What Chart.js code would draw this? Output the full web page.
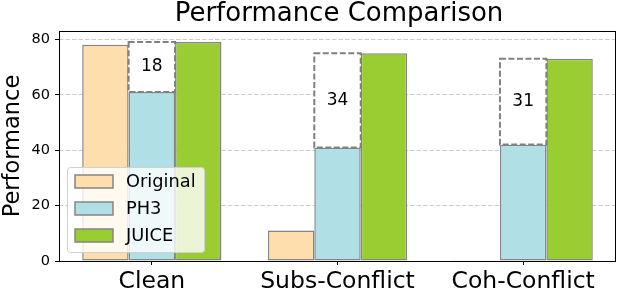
<!DOCTYPE html>
<html>
<head>
<meta charset="utf-8">
<script src="https://cdn.jsdelivr.net/npm/chart.js@4.4.1/dist/chart.umd.min.js"></script>
<style>
  html, body { margin: 0; padding: 0; background: #fff; }
  #wrap { width: 622px; height: 292px; }
</style>
</head>
<body>
<div id="wrap"><canvas id="chart"></canvas></div>
<script>
const categories = ['Clean', 'Subs-Conflict', 'Coh-Conflict'];
const originalScores = [78, 11, 0.3];
const ph3Scores = [61, 41, 42];
const juiceScores = [79, 75, 73];
const yTicks = [0, 20, 40, 60, 80];
const chartTitle = 'Performance Comparison';

const FONT = "'DejaVu Sans', sans-serif";
const EDGE = '#858585';

const seriesList = [
    { label: 'Original', data: originalScores, color: '#FFDEAD' },
    { label: 'PH3', data: ph3Scores, color: '#B0E0E6' },
    { label: 'JUICE', data: juiceScores, color: '#9ACD32' }
];

// title, spines, gap boxes and the legend are drawn by hand (matplotlib look)
const decorPlugin = {
    id: 'decor',
    afterDatasetsDraw(chart) {
        const ctx = chart.ctx;
        const area = chart.chartArea;
        const yScale = chart.scales.y;
        const ph3Meta = chart.getDatasetMeta(1);

        // dashed boxes between PH3 and JUICE
        ph3Meta.data.forEach((bar, i) => {
            const gap = juiceScores[i] - ph3Scores[i];
            const yTop = yScale.getPixelForValue(juiceScores[i]);
            const yBot = yScale.getPixelForValue(ph3Scores[i]);
            const x0 = bar.x - bar.width / 2;
            ctx.save();
            ctx.fillStyle = '#ffffff';
            ctx.fillRect(x0, yTop, bar.width, yBot - yTop);
            ctx.strokeStyle = '#808080';
            ctx.lineWidth = 2;
            ctx.setLineDash([6, 2.5]);
            ctx.strokeRect(x0, yTop, bar.width, yBot - yTop);
            ctx.setLineDash([]);
            ctx.fillStyle = '#000';
            ctx.font = `17px ${FONT}`;
            ctx.textAlign = 'center';
            ctx.textBaseline = 'middle';
            ctx.fillText(String(gap), bar.x, (yTop + yBot) / 2);
            ctx.restore();
        });

        // spines
        ctx.save();
        ctx.strokeStyle = '#000';
        ctx.lineWidth = 1;
        ctx.strokeRect(Math.round(area.left) + 0.5, Math.round(area.top) + 0.5,
            Math.round(area.right - area.left) - 1, Math.round(area.bottom - area.top));
        ctx.restore();

        // legend, lower left inside the axes
        const lx = area.left + 8, ly = area.bottom - 94, lw = 137, lh = 85;
        ctx.save();
        ctx.fillStyle = 'rgba(255,255,255,0.8)';
        ctx.strokeStyle = '#d0d0d0';
        ctx.lineWidth = 1;
        ctx.beginPath();
        ctx.roundRect(lx + 0.5, ly + 0.5, lw, lh, 3);
        ctx.fill();
        ctx.stroke();
        seriesList.forEach((s, i) => {
            const cy = ly + 14.5 + i * 27;
            ctx.fillStyle = s.color;
            ctx.fillRect(lx + 8, cy - 6.5, 38, 13);
            ctx.strokeStyle = EDGE;
            ctx.lineWidth = 1.5;
            ctx.strokeRect(lx + 8, cy - 6.5, 38, 13);
            ctx.fillStyle = '#000';
            ctx.font = `17.8px ${FONT}`;
            ctx.textAlign = 'left';
            ctx.textBaseline = 'middle';
            ctx.fillText(s.label, lx + 59, cy + 1);
        });
        ctx.restore();

        // title
        ctx.save();
        ctx.fillStyle = '#000';
        ctx.font = `26px ${FONT}`;
        ctx.textAlign = 'center';
        ctx.textBaseline = 'alphabetic';
        ctx.fillText(chartTitle, (area.left + area.right) / 2 + 1.5, 21);
        ctx.restore();
    }
};

const ctx = document.getElementById('chart').getContext('2d');
new Chart(ctx, {
    type: 'bar',
    data: {
        labels: categories,
        datasets: seriesList.map(s => ({
            label: s.label,
            data: s.data,
            backgroundColor: s.color,
            borderColor: EDGE,
            borderWidth: 1.5,
            borderSkipped: false,
            categoryPercentage: 0.75,
            barPercentage: 1.0
        }))
    },
    options: {
        responsive: true,
        maintainAspectRatio: false,
        animation: false,
        layout: { padding: { top: 31, right: 6, left: 0, bottom: 0 } },
        plugins: {
            legend: { display: false },
            title: { display: false },
            tooltip: { enabled: false }
        },
        scales: {
            x: {
                offset: true,
                grid: {
                    offset: false,
                    drawOnChartArea: false,
                    drawTicks: true,
                    tickLength: 4,
                    tickColor: '#000'
                },
                border: { display: false },
                ticks: {
                    color: '#000',
                    padding: 3,
                    font: { family: FONT, size: 23.5 }
                },
                afterFit(scale) { scale.height = 31; }
            },
            y: {
                min: 0,
                max: 83,
                grid: {
                    color: '#cccccc',
                    lineWidth: 1,
                    borderDash: [4.5, 2],
                    tickLength: 4,
                    tickColor: '#000',
                    tickBorderDash: []
                },
                border: { display: false, dash: [4.5, 2] },
                ticks: {
                    stepSize: 20,
                    color: '#000',
                    padding: 5,
                    font: { family: FONT, size: 14.5 }
                },
                afterBuildTicks(scale) {
                    scale.ticks = yTicks.map(v => ({ value: v }));
                },
                title: {
                    display: true,
                    text: 'Performance',
                    color: '#000',
                    padding: { top: 0, bottom: 0 },
                    font: { family: FONT, size: 22.5 }
                },
                afterFit(scale) { scale.width = 59; }
            }
        }
    },
    plugins: [decorPlugin]
});
</script>
</body>
</html>
